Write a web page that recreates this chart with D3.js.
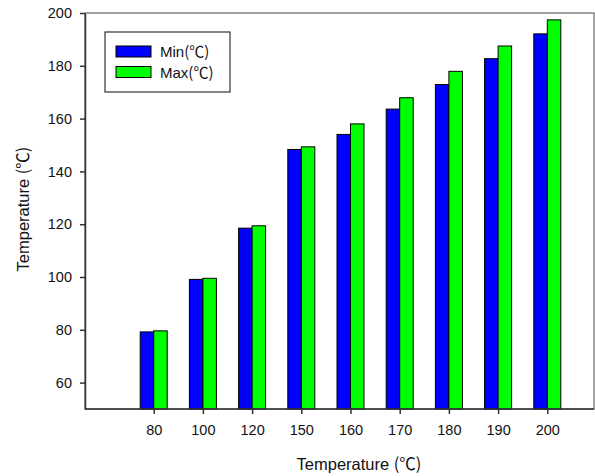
<!DOCTYPE html>
<html>
<head>
<meta charset="utf-8">
<script src="https://cdn.jsdelivr.net/npm/d3@7"></script>
<style>
    body { margin: 0; background: #fff; }
    text { font-family: "Liberation Sans", Arial, sans-serif; fill: #111; }
    .axis path, .axis line { stroke: #333; stroke-width: 1.5; }
    .axis text { font-size: 14.5px; }
    .cjk { font-family: "Noto Sans CJK KR", sans-serif; }
</style>
</head>
<body>
<svg id="chart"></svg>
<script>
// data
var categories = ['80', '100', '120', '150', '160', '170', '180', '190', '200'];
var minValues = [79.2, 99.1, 118.5, 148.3, 154.0, 163.6, 172.9, 182.7, 192.1];
var maxValues = [79.6, 99.5, 119.4, 149.3, 158.0, 167.9, 177.9, 187.5, 197.4];
var yTicks = [60, 80, 100, 120, 140, 160, 180, 200];
var seriesNames = ['Min', 'Max'];
var seriesColors = ['#0000ff', '#00ff00'];

var margin = {top: 13, right: 1, bottom: 67, left: 85};
var width = 595 - margin.left - margin.right;
var height = 476 - margin.top - margin.bottom;

var svg = d3.select('#chart')
    .attr('width', 595)
    .attr('height', 476)
    .append('g')
    .attr('transform', `translate(${margin.left}, ${margin.top})`);

// scales
var xScale = d3.scalePoint()
    .domain(categories)
    .range([68.7, 462.3]);
var yScale = d3.scaleLinear()
    .domain([50, 200])
    .range([height, 0]);
var barWidth = 13.5;

// frame (top / right border)
svg.append('rect')
    .attr('x', 0)
    .attr('y', 0)
    .attr('width', width)
    .attr('height', height)
    .attr('fill', 'none')
    .attr('stroke', '#666')
    .attr('stroke-width', 1.2);

// bars
var rows = categories.map((c, i) => ({cat: c, values: [minValues[i], maxValues[i]]}));
rows.forEach(r => {
    r.values.forEach((v, j) => {
        svg.append('rect')
            .attr('x', xScale(r.cat) + (j - 1) * barWidth)
            .attr('y', yScale(v))
            .attr('width', barWidth)
            .attr('height', height - yScale(v))
            .attr('fill', seriesColors[j])
            .attr('stroke', '#000')
            .attr('stroke-width', 1);
    });
});

// axes
svg.append('g')
    .attr('class', 'axis')
    .call(d3.axisLeft(yScale).tickValues(yTicks).tickSize(5).tickPadding(8).tickSizeOuter(0));

svg.append('g')
    .attr('class', 'axis')
    .attr('transform', `translate(0, ${height})`)
    .call(d3.axisBottom(xScale).tickSize(5).tickPadding(11).tickSizeOuter(0))
    .select('.domain')
    .attr('d', `M0,0H${width}`);

// axis titles
function degreeTitle(sel) {
    sel.append('tspan').text('Temperature ');
    sel.append('tspan').attr('class', 'cjk').text('(℃)');
}

svg.append('text')
    .attr('x', 274)
    .attr('y', height + 61)
    .style('font-size', '16.5px')
    .style('text-anchor', 'middle')
    .call(degreeTitle);

svg.append('text')
    .attr('transform', 'rotate(-90)')
    .attr('x', -196)
    .attr('y', -56)
    .style('font-size', '16.5px')
    .style('text-anchor', 'middle')
    .call(degreeTitle);

// legend
var legend = svg.append('g')
    .attr('transform', 'translate(20, 19)');
legend.append('rect')
    .attr('width', 125)
    .attr('height', 60)
    .attr('fill', '#fff')
    .attr('stroke', '#333')
    .attr('stroke-width', 1.2);
seriesNames.forEach((name, j) => {
    legend.append('rect')
        .attr('x', 11)
        .attr('y', 14 + j * 20.5)
        .attr('width', 35)
        .attr('height', 11)
        .attr('fill', seriesColors[j])
        .attr('stroke', '#000');
    var t = legend.append('text')
        .attr('x', 55)
        .attr('y', 25 + j * 20.5)
        .style('font-size', '15px');
    t.append('tspan').text(name);
    t.append('tspan').attr('class', 'cjk').text('(℃)');
});
</script>
</body>
</html>
